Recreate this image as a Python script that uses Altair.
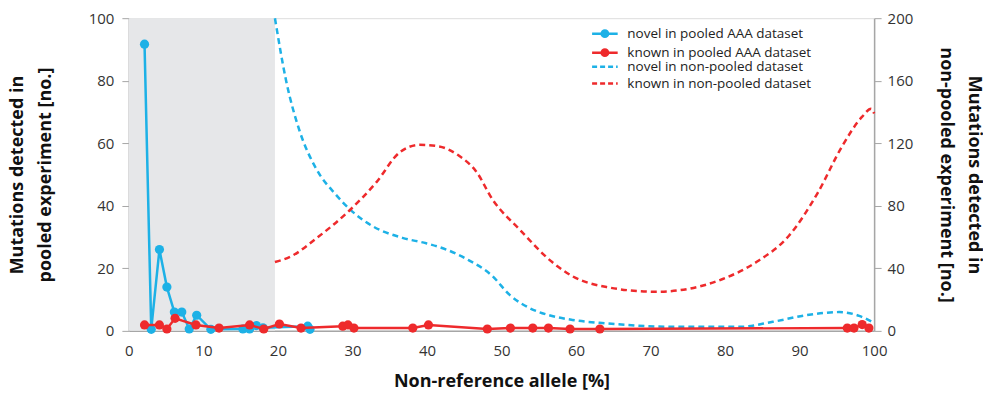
import altair as alt
import pandas as pd

# ---- data ----
novel_pooled_x = [2.1, 3.0, 4.1, 5.1, 6.1, 7.1, 8.1, 9.1, 11.0, 15.3, 16.2, 17.1, 18.0, 24.0, 24.3]
novel_pooled_y = [91.7, 0.5, 26.0, 14.0, 6.0, 6.0, 0.6, 5.0, 0.5, 0.6, 0.6, 1.7, 1.0, 1.5, 0.5]

known_pooled_x = [2.1, 4.1, 5.1, 6.2, 9.0, 12.1, 16.2, 18.1, 20.2, 23.1, 28.7, 29.4, 30.2,
                  38.1, 40.2, 48.1, 51.2, 54.2, 56.3, 59.2, 63.2, 96.4, 97.3, 98.4, 99.3]
known_pooled_y = [1.9, 1.9, 0.6, 4.0, 1.9, 0.9, 1.9, 0.6, 2.2, 0.9, 1.5, 1.9, 0.9,
                  0.9, 1.9, 0.6, 0.9, 0.9, 0.9, 0.6, 0.6, 0.9, 0.9, 2.0, 0.9]

novel_np_x = [19.6, 21.1, 22.9, 25.1, 27.8, 29.6, 32.7, 36.7, 39.9, 42.6, 45.3, 48.8,
              51.1, 53.8, 56.4, 59.5, 64.1, 73.0, 82.0, 86.4, 90.9, 95.3, 98.0, 100.0]
novel_np_y = [200, 160, 128, 104, 87, 78, 67, 59.5, 56, 52, 46, 35,
              23, 14.5, 10, 7, 4.8, 2.6, 2.6, 5.8, 10, 12, 9.6, 5.0]

known_np_x = [19.6, 21.9, 25.1, 29.6, 33.2, 36.3, 39.0, 41.6, 44.3, 46.6, 48.8, 52.4,
              56.8, 59.5, 64.1, 70.8, 75.2, 79.6, 84.2, 88.6, 92.4, 95.7, 98.4, 99.6, 100.0]
known_np_y = [44, 48, 59, 77, 95, 114, 119, 118, 112, 102, 84, 65,
              44, 35, 28, 25, 27, 33, 44, 61, 88, 118, 137, 142, 139]

shaded_region = [0, 19.6]

pooled_names = ["novel in pooled AAA dataset", "known in pooled AAA dataset"]
np_names = ["novel in non-pooled dataset", "known in non-pooled dataset"]
x_ticks = list(range(0, 101, 10))
left_ticks = [0, 20, 40, 60, 80, 100]
right_ticks = [0, 40, 80, 120, 160, 200]

BLUE = "#1db1e6"
RED = "#ee2a2c"
FONT = "Open Sans"
W, H = 746, 313

pooled = pd.concat([
    pd.DataFrame({"x": novel_pooled_x, "y": novel_pooled_y, "series": pooled_names[0]}),
    pd.DataFrame({"x": known_pooled_x, "y": known_pooled_y, "series": pooled_names[1]}),
])
nonpooled = pd.concat([
    pd.DataFrame({"x": novel_np_x, "v": novel_np_y, "np_series": np_names[0]}),
    pd.DataFrame({"x": known_np_x, "v": known_np_y, "np_series": np_names[1]}),
])
shade_df = pd.DataFrame({"x0": [shaded_region[0]], "x1": [shaded_region[1]]})

x_scale = alt.Scale(domain=[0, 100], nice=False, zero=False)
x_axis = alt.Axis(values=x_ticks, title="Non-reference allele [%]", grid=False, ticks=False,
                  domainColor="#a6a6a6", domainWidth=1.5, labelFont=FONT, labelFontSize=15,
                  labelColor="#333333", labelPadding=13, labelFlush=False,
                  titleFont=FONT, titleFontSize=18,
                  titleFontWeight="bold", titleColor="#111111", titlePadding=14)

left_axis = alt.Axis(values=left_ticks, title=["Mutations detected in", "pooled experiment [no.]"],
                     grid=False, orient="left", domainColor="#a6a6a6", domainWidth=1.5,
                     tickColor="#a6a6a6", tickSize=7, labelFont=FONT, labelFontSize=15,
                     labelColor="#333333", labelPadding=8, labelFlush=False,
                     titleFont=FONT, titleFontSize=18,
                     titleFontWeight="bold", titleColor="#111111", titlePadding=34,
                     titleLineHeight=28)
right_axis = alt.Axis(values=right_ticks, title=["Mutations detected in", "non-pooled experiment [no.]"],
                      grid=False, orient="right", domainColor="#a6a6a6", domainWidth=1.5,
                      tickColor="#a6a6a6", tickSize=7, labelFont=FONT, labelFontSize=15,
                      labelColor="#333333", labelPadding=6, labelFlush=False,
                      titleFont=FONT, titleFontSize=18,
                      titleFontWeight="bold", titleColor="#111111", titlePadding=24,
                      titleLineHeight=28)

shade = alt.Chart(shade_df).mark_rect(color="#e6e7e9").encode(
    x=alt.X("x0:Q", scale=x_scale, axis=x_axis), x2="x1:Q",
    y=alt.value(0), y2=alt.value(H))

pooled_legend = alt.Legend(
    title=None, orient="none", legendX=467, legendY=6,
    symbolType="M-1.6,0H1.6M-0.4,0A0.4,0.4,0,1,0,0.4,0A0.4,0.4,0,1,0,-0.4,0",
    symbolSize=256, symbolStrokeWidth=2.5, labelFont=FONT, labelFontSize=13.5,
    labelColor="#222222", labelOffset=13, rowPadding=1, labelLimit=400)
np_legend = alt.Legend(
    title=None, orient="none", legendX=467, legendY=39,
    symbolType="M-1.6,0H1.6", symbolDash=[5, 3],
    symbolSize=256, symbolStrokeWidth=2.5, labelFont=FONT, labelFontSize=13.5,
    labelColor="#222222", labelOffset=13, rowPadding=1, labelLimit=400)

p_color = alt.Color("series:N", scale=alt.Scale(domain=pooled_names, range=[BLUE, RED]),
                    legend=pooled_legend)
p_y = alt.Y("y:Q", scale=alt.Scale(domain=[0, 100], nice=False), axis=left_axis)

p_base = alt.Chart(pooled).encode(x=alt.X("x:Q", scale=x_scale), y=p_y, color=p_color,
                                  order="x:Q")
blue_line = p_base.transform_filter(alt.datum.series == pooled_names[0]).mark_line(strokeWidth=2.5)
blue_pts = p_base.transform_filter(alt.datum.series == pooled_names[0]).mark_circle(size=85, opacity=1)
red_line = p_base.transform_filter(alt.datum.series == pooled_names[1]).mark_line(strokeWidth=2.5)
red_pts = p_base.transform_filter(alt.datum.series == pooled_names[1]).mark_circle(size=85, opacity=1)
pooled_layer = alt.layer(blue_line, blue_pts, red_line, red_pts)

np_layer = alt.Chart(nonpooled).mark_line(strokeWidth=2.5, strokeDash=[6, 4],
                                          interpolate="monotone").encode(
    x=alt.X("x:Q", scale=x_scale),
    y=alt.Y("v:Q", scale=alt.Scale(domain=[0, 200], nice=False), axis=right_axis),
    color=alt.Color("np_series:N", scale=alt.Scale(domain=np_names, range=[BLUE, RED]),
                    legend=np_legend),
    order="x:Q")

chart = alt.layer(shade, np_layer, pooled_layer).resolve_scale(
    y="independent", color="independent").properties(
    width=W, height=H, padding={"left": 0, "top": 3, "right": 0, "bottom": 0}
).configure_view(stroke=None).configure(background="white")

chart.save("out.html", embed_options={"renderer": "svg", "actions": False})
